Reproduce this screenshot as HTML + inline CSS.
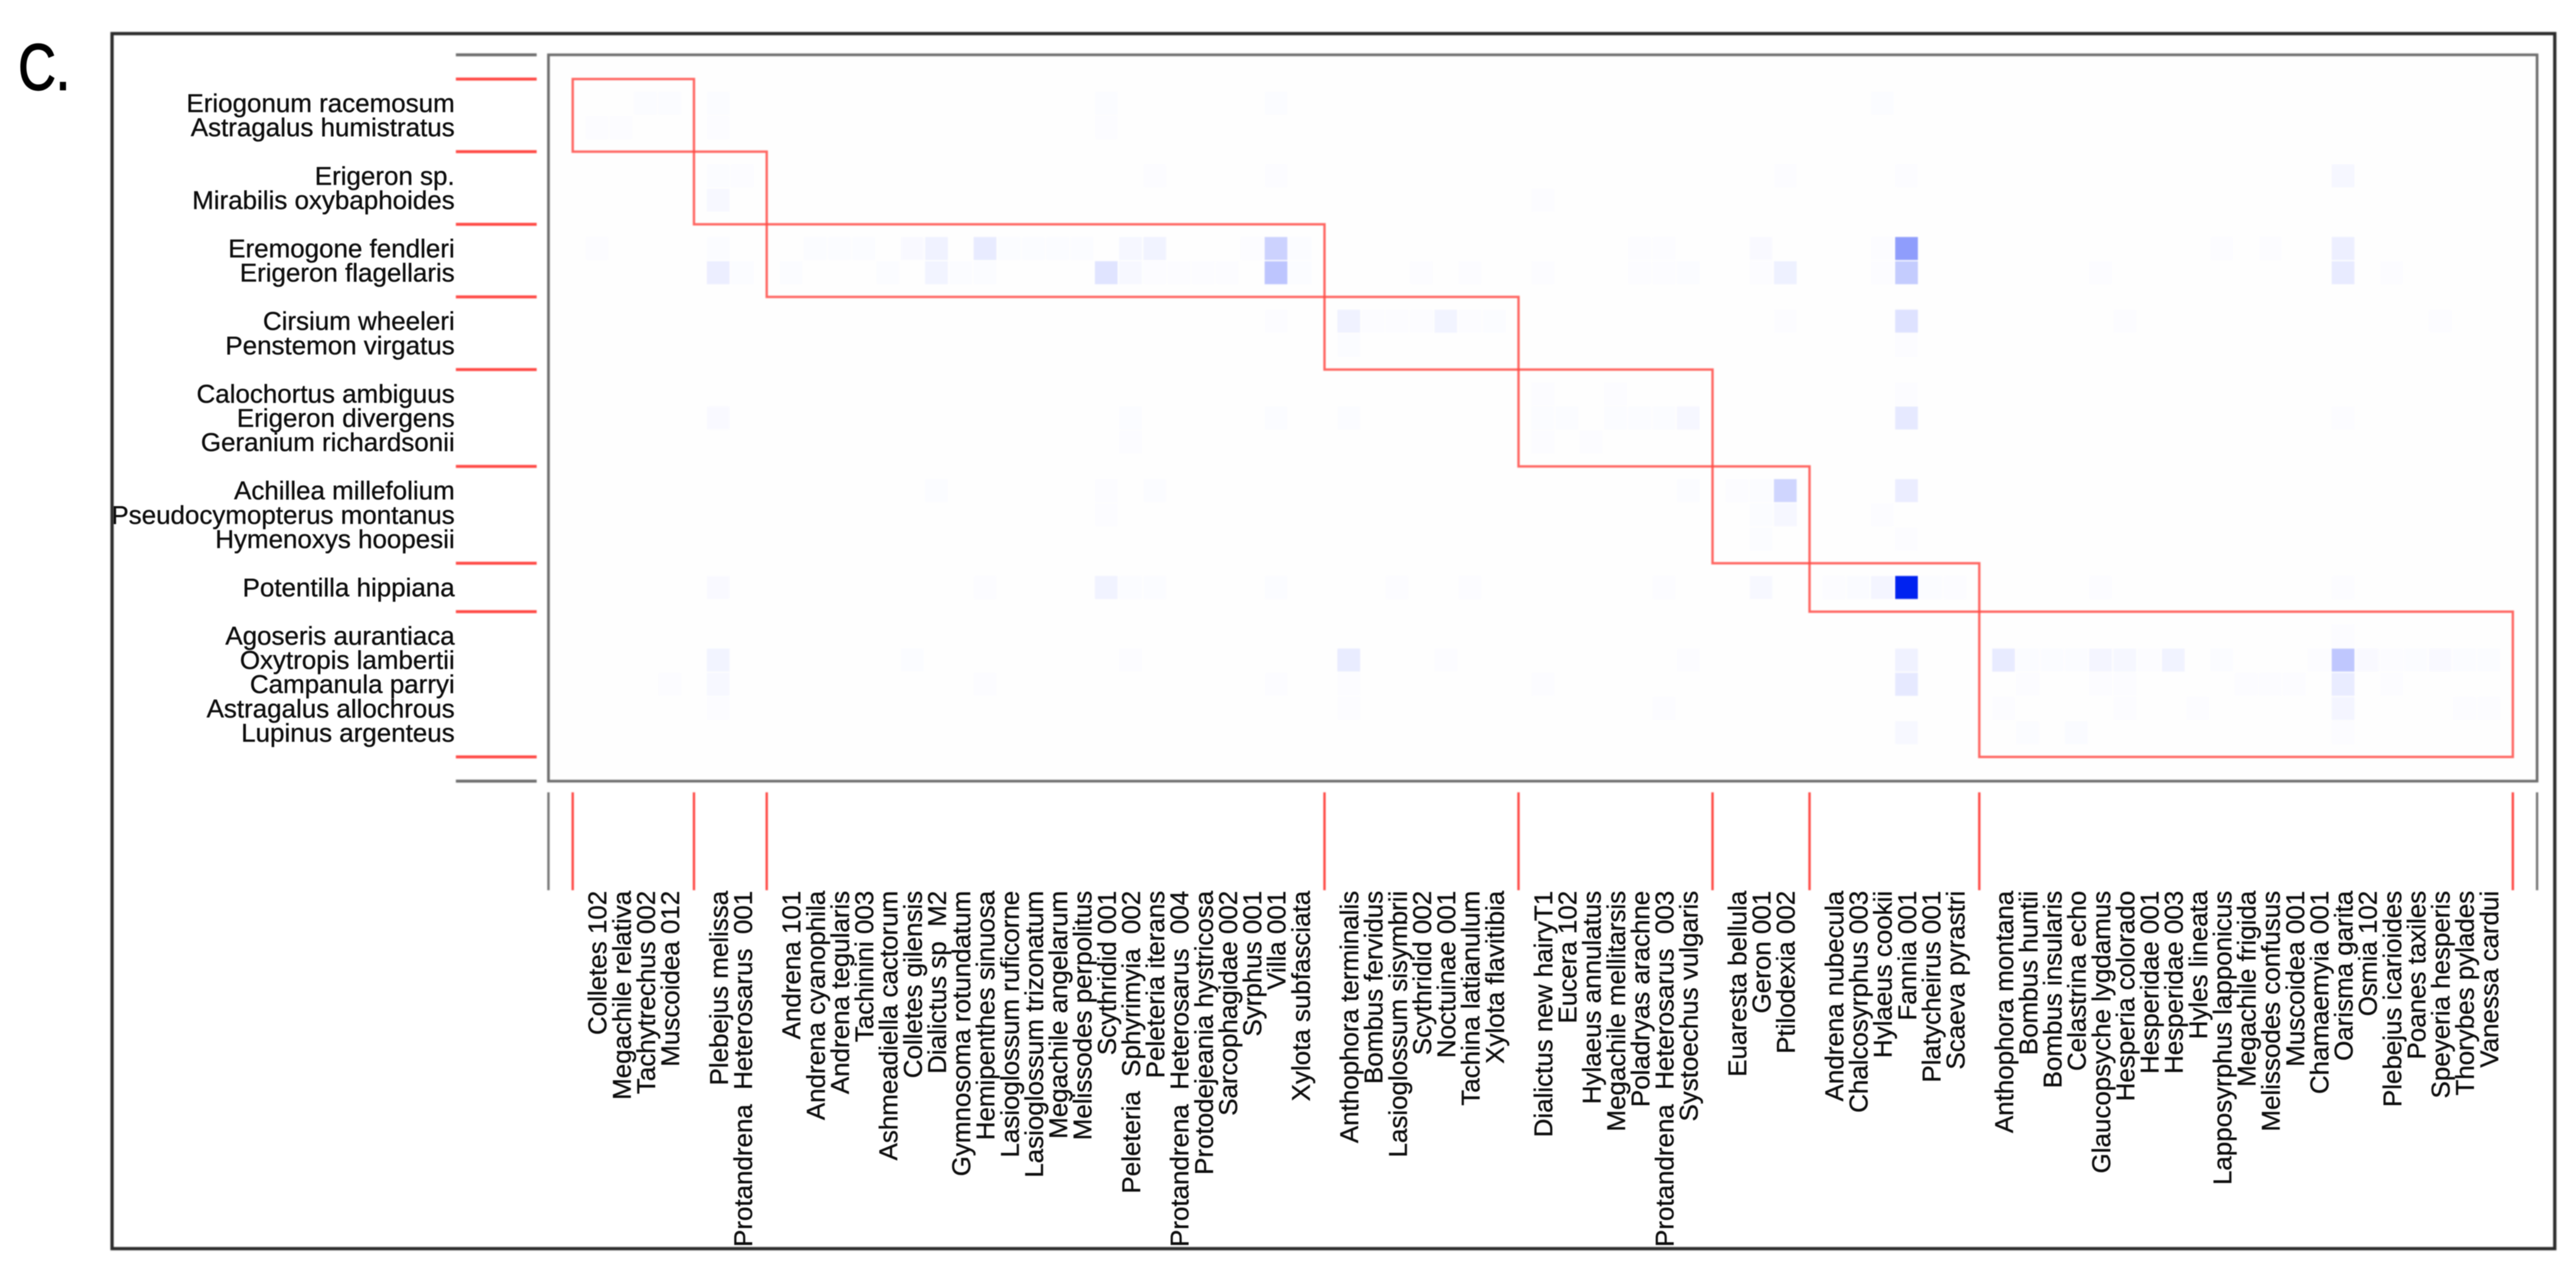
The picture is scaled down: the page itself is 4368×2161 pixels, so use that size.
<!DOCTYPE html>
<html lang="en">
<head>
<meta charset="utf-8">
<title>Plant-pollinator modules heatmap</title>
<style>
html,body{margin:0;padding:0;background:#fff;width:4368px;height:2161px;overflow:hidden}
svg{display:block}
text{font-family:"Liberation Sans",Arial,sans-serif;fill:#111;stroke:#111;stroke-width:0.5;white-space:pre}
</style>
</head>
<body>
<svg id="chart" xmlns="http://www.w3.org/2000/svg" width="4368" height="2161" viewBox="0 0 4368 2161">
  <defs>
    <filter id="soft" x="-2%" y="-2%" width="104%" height="104%"><feGaussianBlur stdDeviation="0.9"/></filter>
    <filter id="softLine" filterUnits="userSpaceOnUse" x="0" y="0" width="4368" height="2161"><feGaussianBlur stdDeviation="1"/></filter>
  </defs>
  <rect x="0" y="0" width="4368" height="2161" fill="#ffffff"/>
  <text x="31" y="152" font-size="110" textLength="88" lengthAdjust="spacingAndGlyphs" style="fill:#000;stroke:#000;stroke-width:2.5" filter="url(#soft)">C.</text>
  <rect x="930" y="93" width="3372" height="1232" fill="#fefefe"/>
  <g id="frames" filter="url(#softLine)">
    <rect x="190" y="57" width="4142" height="2061" fill="none" stroke="#2c2c2c" stroke-width="5.5"/>
    <rect x="930" y="93" width="3372" height="1232" fill="none" stroke="#6e6e6e" stroke-width="4.5"/>
  </g>
  <g id="cells" filter="url(#softLine)"></g>
  <g id="boxes" filter="url(#softLine)"></g>
  <g id="ticks" filter="url(#softLine)"></g>
  <g id="rowLabels" filter="url(#soft)"></g>
  <g id="colLabels" filter="url(#soft)"></g>
</svg>
<script>
const plantNames = ["Eriogonum racemosum","Astragalus humistratus","Erigeron sp.","Mirabilis oxybaphoides","Eremogone fendleri","Erigeron flagellaris","Cirsium wheeleri","Penstemon virgatus","Calochortus ambiguus","Erigeron divergens","Geranium richardsonii","Achillea millefolium","Pseudocymopterus montanus","Hymenoxys hoopesii","Potentilla hippiana","Agoseris aurantiaca","Oxytropis lambertii","Campanula parryi","Astragalus allochrous","Lupinus argenteus"];
const pollinatorNames = ["Colletes 102","Megachile relativa","Tachytrechus 002","Muscoidea 012","Plebejus melissa","Protandrena  Heterosarus  001","Andrena 101","Andrena cyanophila","Andrena tegularis","Tachinini 003","Ashmeadiella cactorum","Colletes gilensis","Dialictus sp  M2","Gymnosoma rotundatum","Hemipenthes sinuosa","Lasioglossum ruficorne","Lasioglossum trizonatum","Megachile angelarum","Melissodes perpolitus","Scythridid 001","Peleteria  Sphyrimyia  002","Peleteria iterans","Protandrena  Heterosarus  004","Protodejeania hystricosa","Sarcophagidae 002","Syrphus 001","Villa 001","Xylota subfasciata","Anthophora terminalis","Bombus fervidus","Lasioglossum sisymbrii","Scythridid 002","Noctuinae 001","Tachina latianulum","Xylota flavitibia","Dialictus new hairyT1","Eucera 102","Hylaeus annulatus","Megachile mellitarsis","Poladryas arachne","Protandrena  Heterosarus  003","Systoechus vulgaris","Euaresta bellula","Geron 001","Ptilodexia 002","Andrena nubecula","Chalcosyrphus 003","Hylaeus cookii","Fannia 001","Platycheirus 001","Scaeva pyrastri","Anthophora montana","Bombus huntii","Bombus insularis","Celastrina echo","Glaucopsyche lygdamus","Hesperia colorado","Hesperidae 001","Hesperidae 003","Hyles lineata","Lapposyrphus lapponicus","Megachile frigida","Melissodes confusus","Muscoidea 001","Chamaemyia 001","Oarisma garita","Osmia 102","Plebejus icarioides","Poanes taxiles","Speyeria hesperis","Thorybes pylades","Vanessa cardui"];
const plantModuleSizes = [2,2,2,2,3,3,1,5];
const pollinatorModuleSizes = [4,2,22,7,7,3,6,21];
// one list per plant: [pollinator index, interaction strength 0..1]
const interactionValues = [
  [[2,.015],[3,.015],[4,.015],[19,.015],[26,.015],[47,.015]],
  [[0,.012],[1,.012],[4,.012],[19,.012]],
  [[4,.015],[5,.012],[21,.012],[26,.012],[44,.012],[48,.012],[65,.035]],
  [[4,.03],[35,.012]],
  [[0,.012],[4,.015],[7,.015],[8,.015],[9,.015],[11,.025],[12,.06],[14,.09],[15,.015],[16,.015],[17,.015],[18,.015],[20,.035],[21,.055],[25,.012],[26,.2],[27,.015],[39,.012],[40,.012],[43,.025],[47,.012],[48,.44],[60,.012],[62,.012],[65,.07]],
  [[4,.075],[5,.015],[6,.015],[10,.015],[12,.05],[13,.015],[14,.015],[19,.12],[20,.03],[21,.012],[22,.012],[23,.012],[24,.012],[26,.26],[27,.015],[31,.012],[33,.012],[35,.012],[39,.012],[40,.012],[41,.015],[43,.012],[44,.065],[47,.012],[48,.23],[55,.012],[65,.09],[67,.012]],
  [[26,.012],[28,.06],[29,.012],[30,.012],[31,.012],[32,.05],[33,.012],[34,.015],[44,.012],[48,.13],[56,.012],[69,.012]],
  [[28,.015],[48,.012]],
  [[35,.012],[38,.012],[48,.012]],
  [[4,.025],[20,.015],[26,.015],[28,.015],[35,.015],[36,.015],[38,.015],[39,.015],[40,.015],[41,.035],[48,.1],[65,.012]],
  [[20,.012],[35,.012],[37,.012]],
  [[12,.015],[19,.012],[21,.015],[41,.015],[42,.012],[43,.015],[44,.19],[48,.08]],
  [[19,.012],[43,.015],[44,.035],[47,.012]],
  [[43,.015],[48,.012]],
  [[4,.025],[14,.012],[19,.055],[20,.015],[21,.015],[26,.015],[30,.012],[33,.012],[40,.012],[43,.03],[45,.012],[46,.02],[47,.045],[48,1],[49,.015],[50,.012],[55,.012],[65,.012]],
  [[65,.012]],
  [[4,.05],[11,.015],[20,.012],[28,.085],[32,.012],[41,.012],[48,.06],[51,.09],[52,.015],[53,.015],[54,.015],[55,.045],[56,.035],[57,.012],[58,.055],[60,.015],[64,.012],[65,.25],[66,.025],[67,.012],[68,.015],[69,.025],[70,.015],[71,.015]],
  [[3,.012],[4,.03],[14,.012],[26,.012],[28,.012],[35,.012],[48,.1],[52,.012],[55,.012],[56,.012],[61,.012],[62,.012],[63,.012],[65,.085],[67,.012]],
  [[4,.012],[28,.012],[40,.012],[51,.012],[56,.012],[59,.012],[65,.045],[70,.012],[71,.012]],
  [[48,.03],[52,.015],[54,.02],[65,.012]]
];

const SVG_NS = "http://www.w3.org/2000/svg";
const plotLeft = 930, plotRight = 4302, plotTop = 93, plotBottom = 1325;
const colSteps = 82, rowSteps = 30;
const stepX = (plotRight - plotLeft) / colSteps;
const stepY = (plotBottom - plotTop) / rowSteps;

function gridX(k) { return plotLeft + k * stepX; }
function gridY(j) { return plotTop + j * stepY; }

function moduleEdges(sizes) {
  const edges = [1];
  sizes.forEach(function (n) { edges.push(edges[edges.length - 1] + n + 1); });
  return edges;
}
function slotsFor(sizes) {
  const slots = [];
  let pos = 1;
  sizes.forEach(function (n) {
    for (let i = 1; i <= n; i++) slots.push(pos + i);
    pos += n + 1;
  });
  return slots;
}
const colEdges = moduleEdges(pollinatorModuleSizes);
const rowEdges = moduleEdges(plantModuleSizes);
const colSlots = slotsFor(pollinatorModuleSizes);
const rowSlots = slotsFor(plantModuleSizes);
function xScale(i) { return gridX(colSlots[i]); }
function yScale(i) { return gridY(rowSlots[i]); }
function colorScale(v) {
  const r = Math.round(255 * (1 - v));
  const g = Math.round(255 - (255 - 32) * v);
  const b = Math.round(255 - 15 * v * v);
  return "rgb(" + r + "," + g + "," + b + ")";
}
function make(tag, parent, attrs) {
  const el = document.createElementNS(SVG_NS, tag);
  Object.keys(attrs).forEach(function (k) { el.setAttribute(k, attrs[k]); });
  parent.appendChild(el);
  return el;
}

const cellsGroup = document.getElementById("cells");
const boxesGroup = document.getElementById("boxes");
const ticksGroup = document.getElementById("ticks");
const rowGroup = document.getElementById("rowLabels");
const colGroup = document.getElementById("colLabels");
const cellW = 38.5, cellH = 39;

interactionValues.forEach(function (list, r) {
  list.forEach(function (entry) {
    const el = make("rect", cellsGroup, {
      x: xScale(entry[0]) - cellW / 2,
      y: yScale(r) - cellH / 2,
      width: cellW,
      height: cellH,
      fill: colorScale(entry[1])
    });
    
    
  });
});

for (let m = 0; m < pollinatorModuleSizes.length; m++) {
  const x0 = gridX(colEdges[m]), x1 = gridX(colEdges[m + 1]);
  const y0 = gridY(rowEdges[m]), y1 = gridY(rowEdges[m + 1]);
  const box = make("rect", boxesGroup, {
    x: x0, y: y0, width: x1 - x0, height: y1 - y0,
    fill: "none", stroke: "#ff4a44", "stroke-width": 4, "stroke-opacity": 0.85
  });
  
  
}

rowEdges.forEach(function (j) {
  const t = make("line", ticksGroup, {
    x1: 773, x2: 910, y1: gridY(j), y2: gridY(j),
    stroke: "#ff4a44", "stroke-width": 5
  });
  
  
});
[0, rowSteps].forEach(function (j) {
  const t = make("line", ticksGroup, {
    x1: 773, x2: 910, y1: gridY(j), y2: gridY(j),
    stroke: "#6e6e6e", "stroke-width": 5
  });
  
  
});
colEdges.forEach(function (k) {
  const t = make("line", ticksGroup, {
    x1: gridX(k), x2: gridX(k), y1: 1344, y2: 1510,
    stroke: "#ff4a44", "stroke-width": 4
  });
  
  
});
[0, colSteps].forEach(function (k) {
  const t = make("line", ticksGroup, {
    x1: gridX(k), x2: gridX(k), y1: 1344, y2: 1510,
    stroke: "#777777", "stroke-width": 4
  });
  
  
});

plantNames.forEach(function (name, i) {
  const t = make("text", rowGroup, {
    x: 771, y: yScale(i) + 15, "text-anchor": "end", "font-size": 44
  });
  t.textContent = name;
  
  
});
pollinatorNames.forEach(function (name, i) {
  const x = xScale(i) + 16, y = 1511;
  const t = make("text", colGroup, {
    x: x, y: y, "text-anchor": "end", "font-size": 44,
    transform: "rotate(-90 " + x + " " + y + ")"
  });
  t.textContent = name;
  
  
});
</script>
</body>
</html>
